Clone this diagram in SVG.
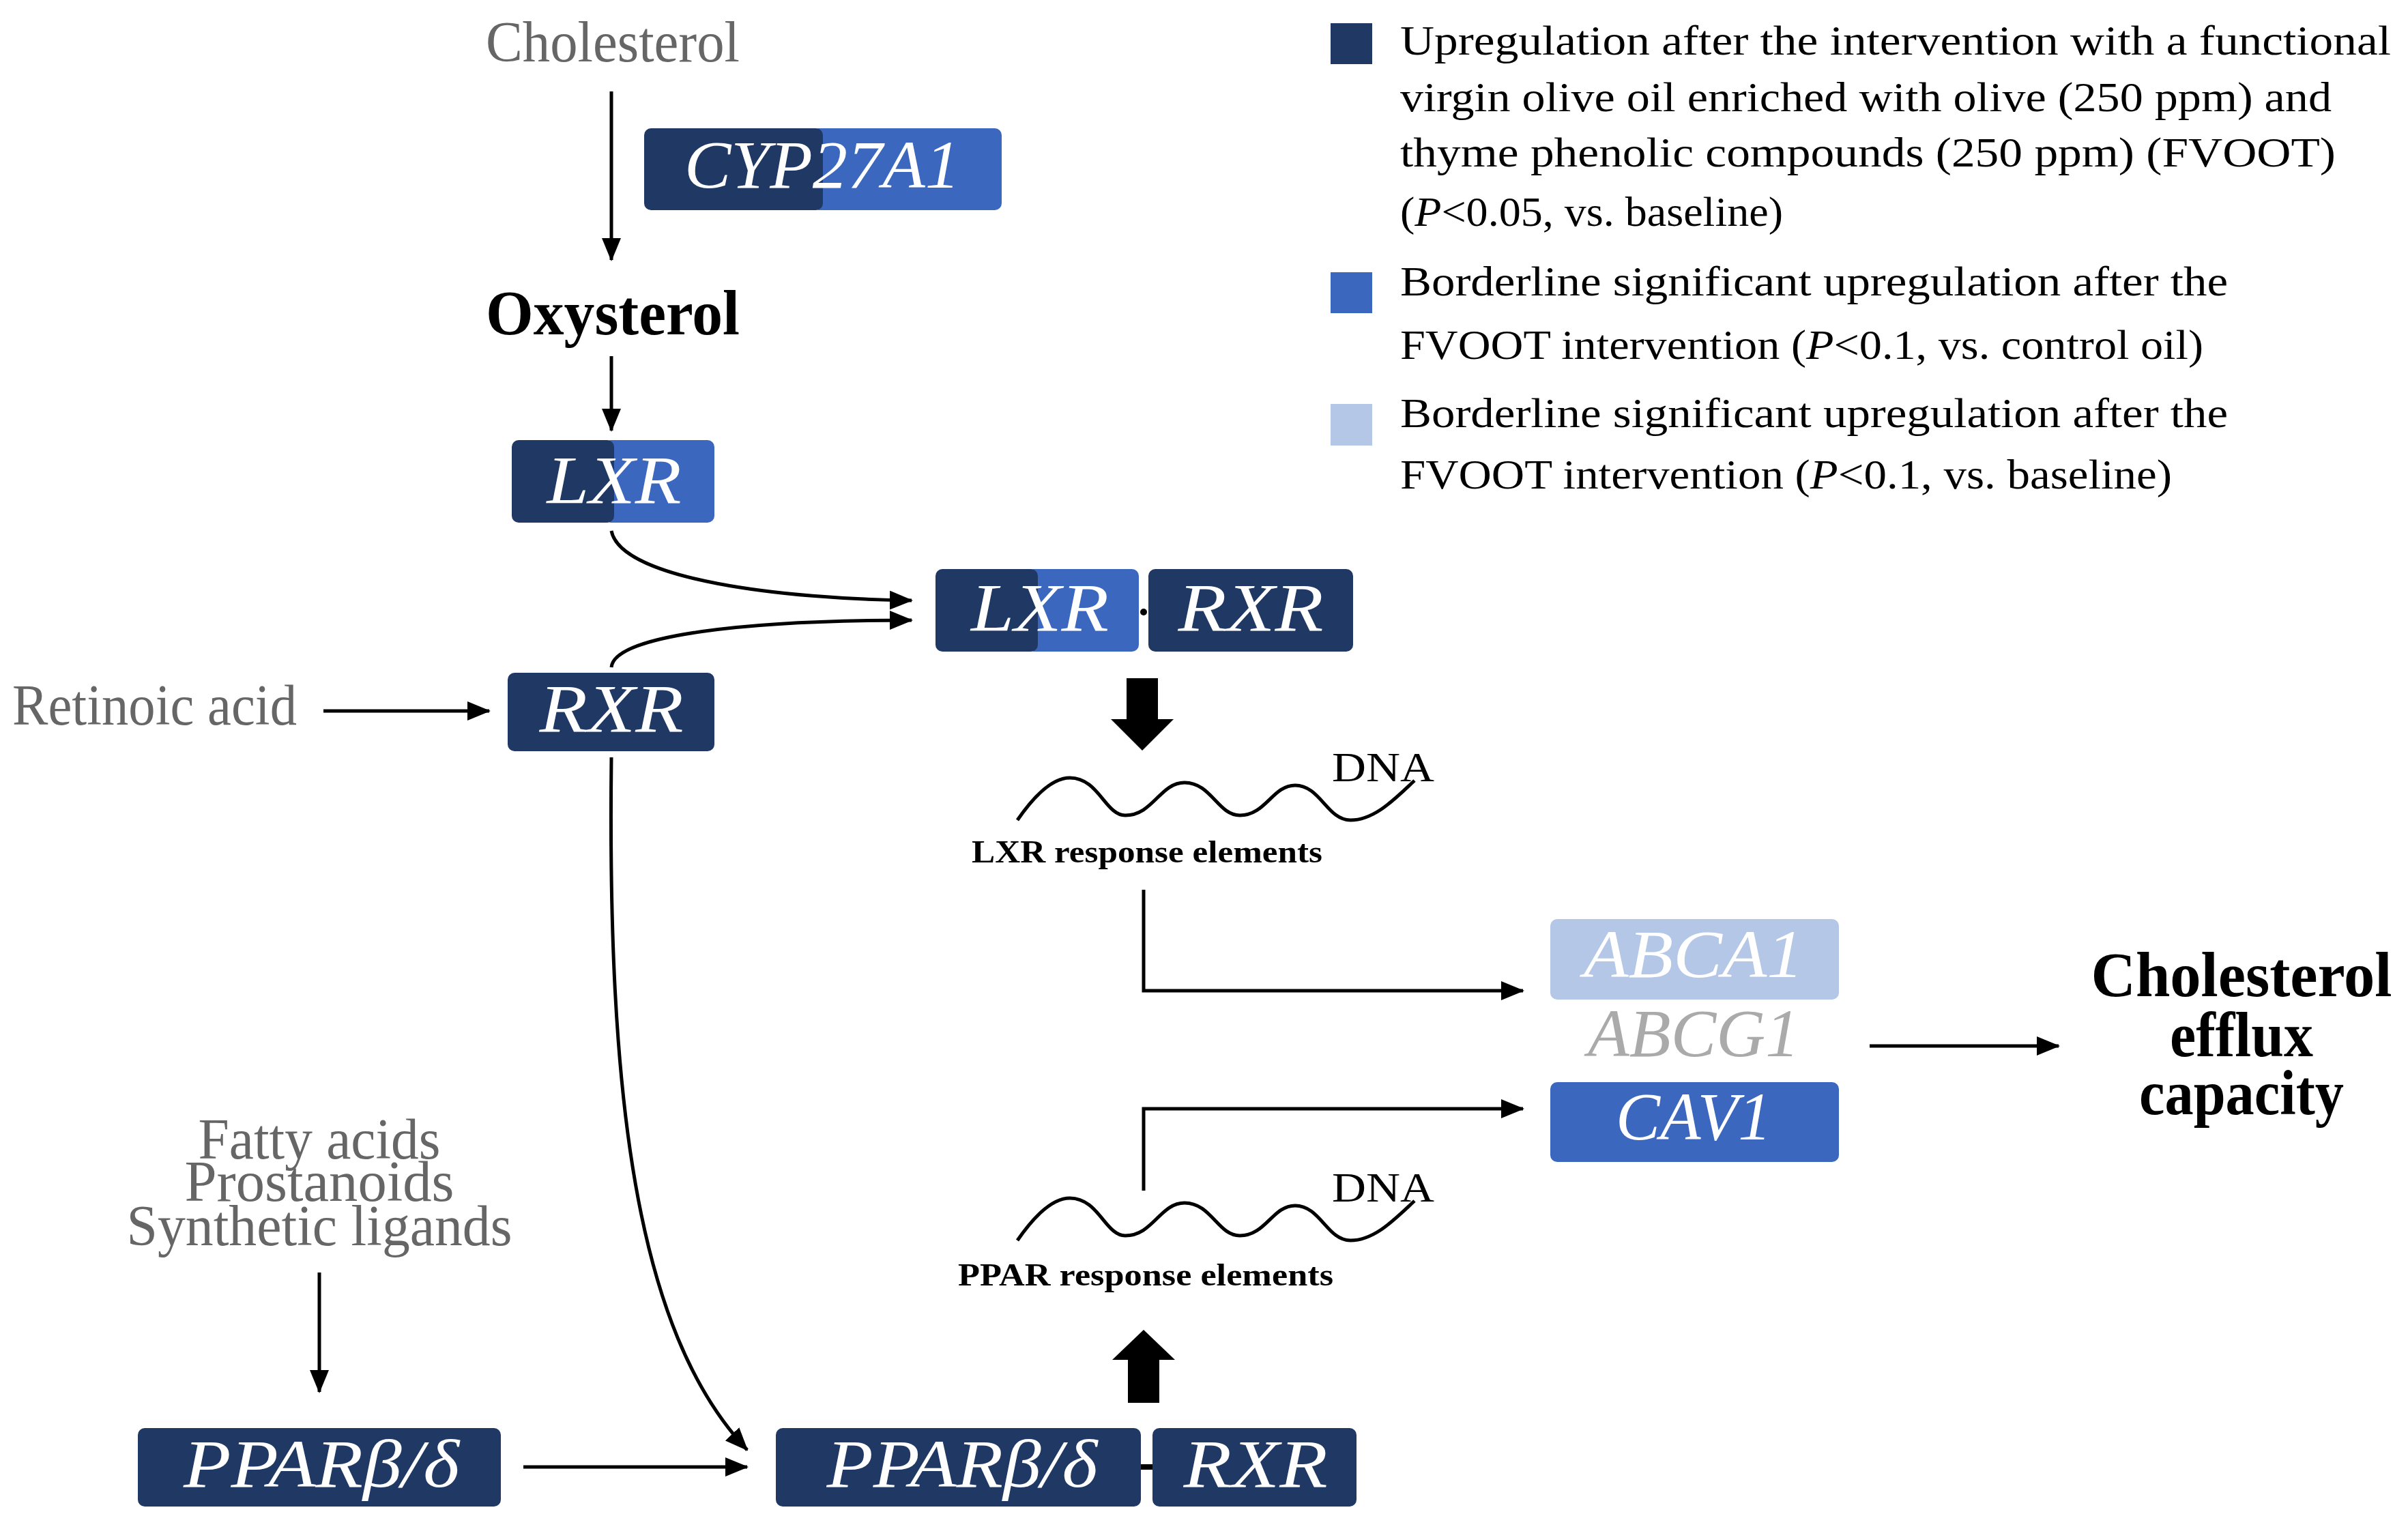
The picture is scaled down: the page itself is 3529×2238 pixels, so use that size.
<svg xmlns="http://www.w3.org/2000/svg" width="3529" height="2238" viewBox="0 0 3529 2238">
<defs>
<marker id="ah" markerUnits="userSpaceOnUse" markerWidth="34" markerHeight="28" refX="32" refY="14" orient="auto"><path d="M0,0 L34,14 L0,28 Z" fill="#000"/></marker>
<style>
.dk{fill:#203864}.md{fill:#3b68be}.lt{fill:#b4c7e7}
.bx{font-family:"Liberation Serif",serif;font-style:italic;fill:#fff;text-anchor:middle;font-size:100px}
.gr{font-family:"Liberation Serif",serif;fill:#666;font-size:84px}
.lg{font-family:"Liberation Serif",serif;fill:#000;font-size:62px}
.bd{font-family:"Liberation Serif",serif;font-weight:bold;fill:#000;text-anchor:middle;font-size:94px}
.sm{font-family:"Liberation Serif",serif;fill:#000;font-size:46px;font-weight:bold}
.ln{fill:none;stroke:#000;stroke-width:5}
</style>
</defs>
<g id="legend">
<rect class="dk" x="1950" y="34" width="61" height="60"/>
<rect class="md" x="1950" y="399" width="61" height="60"/>
<rect class="lt" x="1950" y="592" width="61" height="61"/>
<text class="lg" x="2052" y="80" textLength="1452" lengthAdjust="spacingAndGlyphs">Upregulation after the intervention with a functional</text>
<text class="lg" x="2052" y="163" textLength="1365" lengthAdjust="spacingAndGlyphs">virgin olive oil enriched with olive (250 ppm) and</text>
<text class="lg" x="2052" y="244" textLength="1371" lengthAdjust="spacingAndGlyphs">thyme phenolic compounds (250 ppm) (FVOOT)</text>
<text class="lg" x="2052" y="331" textLength="561" lengthAdjust="spacingAndGlyphs">(<tspan font-style="italic">P</tspan>&lt;0.05, vs. baseline)</text>
<text class="lg" x="2052" y="433" textLength="1213" lengthAdjust="spacingAndGlyphs">Borderline significant upregulation after the</text>
<text class="lg" x="2052" y="526" textLength="1177" lengthAdjust="spacingAndGlyphs">FVOOT intervention (<tspan font-style="italic">P</tspan>&lt;0.1, vs. control oil)</text>
<text class="lg" x="2052" y="626" textLength="1213" lengthAdjust="spacingAndGlyphs">Borderline significant upregulation after the</text>
<text class="lg" x="2052" y="716" textLength="1131" lengthAdjust="spacingAndGlyphs">FVOOT intervention (<tspan font-style="italic">P</tspan>&lt;0.1, vs. baseline)</text>
</g>
<g id="cholesterol"><text class="gr" x="712" y="90" textLength="372" lengthAdjust="spacingAndGlyphs">Cholesterol</text></g>
<g id="cyp27a1">
<rect class="md" x="1190" y="188" width="278" height="120" rx="10"/>
<rect class="dk" x="944" y="188" width="262" height="120" rx="10"/>
<text class="bx" x="1205" y="275" textLength="404" lengthAdjust="spacingAndGlyphs">CYP27A1</text>
</g>
<g id="oxysterol"><text class="bd" x="898" y="490" textLength="372" lengthAdjust="spacingAndGlyphs">Oxysterol</text></g>
<g id="lxr">
<rect class="md" x="885" y="645" width="162" height="121" rx="10"/>
<rect class="dk" x="750" y="645" width="150" height="121" rx="10"/>
<text class="bx" x="900" y="737" textLength="197" lengthAdjust="spacingAndGlyphs">LXR</text>
</g>
<g id="rxr">
<rect class="dk" x="744" y="986" width="303" height="115" rx="10"/>
<text class="bx" x="896" y="1072" textLength="211" lengthAdjust="spacingAndGlyphs">RXR</text>
</g>
<g id="retinoic"><text class="gr" x="18" y="1062" textLength="417" lengthAdjust="spacingAndGlyphs">Retinoic acid</text></g>
<g id="lxr-rxr">
<rect class="md" x="1505" y="834" width="164" height="121" rx="10"/>
<rect class="dk" x="1371" y="834" width="150" height="121" rx="10"/>
<rect class="dk" x="1683" y="834" width="300" height="121" rx="10"/>
<circle cx="1676" cy="897" r="5" fill="#000"/>
<text class="bx" x="1524" y="924" textLength="202" lengthAdjust="spacingAndGlyphs">LXR</text>
<text class="bx" x="1833" y="924" textLength="213" lengthAdjust="spacingAndGlyphs">RXR</text>
</g>
<g id="lxr-re">
<path class="ln" stroke-width="4" d="M1491,1202 C1520,1160 1545,1140 1568,1140 C1610,1140 1620,1195 1649,1195 C1690,1195 1700,1147 1736,1147 C1775,1147 1785,1195 1817,1195 C1855,1195 1865,1151 1898,1151 C1935,1151 1945,1202 1979,1202 C2015,1202 2045,1170 2073,1144"/>
<text class="lg" x="1952" y="1145" font-size="64" textLength="150" lengthAdjust="spacingAndGlyphs">DNA</text>
<text class="sm" x="1424" y="1264" textLength="514" lengthAdjust="spacingAndGlyphs">LXR response elements</text>
</g>
<g id="ppar-re">
<path class="ln" stroke-width="4" d="M1491,1818 C1520,1776 1545,1756 1568,1756 C1610,1756 1620,1811 1649,1811 C1690,1811 1700,1763 1736,1763 C1775,1763 1785,1811 1817,1811 C1855,1811 1865,1767 1898,1767 C1935,1767 1945,1818 1979,1818 C2015,1818 2045,1786 2073,1760"/>
<text class="lg" x="1952" y="1761" font-size="64" textLength="150" lengthAdjust="spacingAndGlyphs">DNA</text>
<text class="sm" x="1404" y="1884" textLength="550" lengthAdjust="spacingAndGlyphs">PPAR response elements</text>
</g>
<g id="abca1">
<rect class="lt" x="2272" y="1347" width="423" height="118" rx="10"/>
<text class="bx" x="2482" y="1432" textLength="322" lengthAdjust="spacingAndGlyphs">ABCA1</text>
</g>
<g id="abcg1"><text class="bx" x="2482" y="1548" style="fill:#aaa" font-size="92" textLength="310" lengthAdjust="spacingAndGlyphs">ABCG1</text></g>
<g id="cav1">
<rect class="md" x="2272" y="1586" width="423" height="117" rx="10"/>
<text class="bx" x="2482" y="1670" textLength="228" lengthAdjust="spacingAndGlyphs">CAV1</text>
</g>
<g id="efflux">
<text class="bd" x="3285" y="1460" font-size="86" textLength="441" lengthAdjust="spacingAndGlyphs">Cholesterol</text>
<text class="bd" x="3285" y="1548" font-size="86" textLength="210" lengthAdjust="spacingAndGlyphs">efflux</text>
<text class="bd" x="3285" y="1633" font-size="86" textLength="300" lengthAdjust="spacingAndGlyphs">capacity</text>
</g>
<g id="ligands">
<text class="gr" x="468" y="1698" font-size="74" text-anchor="middle" textLength="355" lengthAdjust="spacingAndGlyphs">Fatty acids</text>
<text class="gr" x="468" y="1760" font-size="74" text-anchor="middle" textLength="395" lengthAdjust="spacingAndGlyphs">Prostanoids</text>
<text class="gr" x="468" y="1825" font-size="74" text-anchor="middle" textLength="565" lengthAdjust="spacingAndGlyphs">Synthetic ligands</text>
</g>
<g id="ppar">
<rect class="dk" x="202" y="2093" width="532" height="115" rx="10"/>
<text class="bx" x="471" y="2179" textLength="404" lengthAdjust="spacingAndGlyphs">PPARβ/δ</text>
</g>
<g id="ppar-rxr">
<rect class="dk" x="1137" y="2093" width="535" height="115" rx="10"/>
<rect class="dk" x="1689" y="2093" width="299" height="115" rx="10"/>
<line x1="1672" y1="2150" x2="1689" y2="2150" stroke="#000" stroke-width="8"/>
<text class="bx" x="1410" y="2179" textLength="397" lengthAdjust="spacingAndGlyphs">PPARβ/δ</text>
<text class="bx" x="1840" y="2179" textLength="211" lengthAdjust="spacingAndGlyphs">RXR</text>
</g>
<g id="connectors">
<line class="ln" x1="896" y1="134" x2="896" y2="381" marker-end="url(#ah)" stroke-width="4"/>
<line class="ln" x1="896" y1="522" x2="896" y2="631" marker-end="url(#ah)" stroke-width="4"/>
<path class="ln" d="M896,778 C910,850 1150,878 1336,880" marker-end="url(#ah)" stroke-width="6"/>
<path class="ln" d="M896,978 C900,930 1100,909 1336,909" marker-end="url(#ah)" stroke-width="6"/>
<line class="ln" x1="474" y1="1042" x2="717" y2="1042" marker-end="url(#ah)"/>
<path class="ln" d="M896,1110 C890,1600 930,1950 1095,2125" marker-end="url(#ah)" stroke-width="4"/>
<line class="ln" x1="468" y1="1865" x2="468" y2="2040" marker-end="url(#ah)" stroke-width="4"/>
<line class="ln" x1="767" y1="2150" x2="1095" y2="2150" marker-end="url(#ah)"/>
<path class="ln" d="M1676,1304 V1452 H2232" marker-end="url(#ah)"/>
<path class="ln" d="M1676,1745 V1625 H2232" marker-end="url(#ah)"/>
<line class="ln" x1="2740" y1="1533" x2="3017" y2="1533" marker-end="url(#ah)"/>
<path d="M1651,994 H1697 V1054 H1720 L1674,1100 L1628,1054 H1651 Z" fill="#000"/>
<path d="M1653,2056 H1699 V1993 H1722 L1676,1949 L1630,1993 H1653 Z" fill="#000"/>
</g>
</svg>
